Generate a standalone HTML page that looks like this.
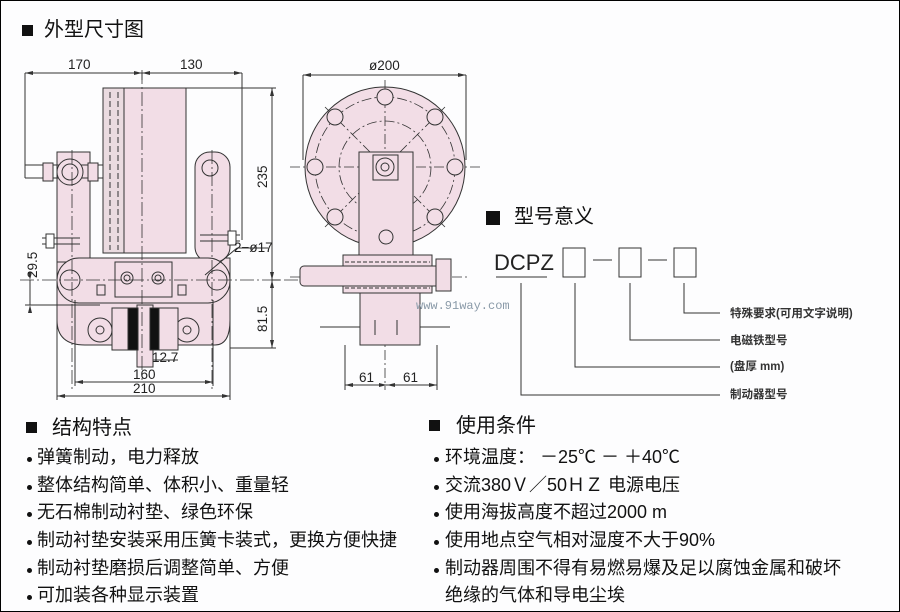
<!DOCTYPE html>
<html><head><meta charset="utf-8"><style>
html,body{margin:0;padding:0;background:#fff}
body{width:900px;height:612px;overflow:hidden;position:relative;font-family:"Liberation Sans","Noto Sans CJK SC",sans-serif}
.frame{position:absolute;left:0;top:0;width:898px;height:610px;border:1px solid #000;background:#fdfdfe}
.t{position:absolute;color:#111;white-space:nowrap;font-size:18px;line-height:1}
.h{font-size:20px}
.sq{position:absolute;width:11px;height:11px;background:#111}
.dot{position:absolute;width:5px;height:5px;border-radius:50%;background:#111}
</style></head><body><div class="frame"></div>
<svg width="900" height="612" style="position:absolute;left:0;top:0" font-family="Liberation Sans, sans-serif">
<g stroke="#333" stroke-width="1" fill="none">
<g fill="#f2dde6">
<path d="M57 258 L57 320 Q57 345 85 345 L215 345 Q230 345 230 320 L230 258 Z"/>
<rect x="57" y="152" width="33" height="110"/>
<rect x="195" y="152" width="35" height="110" rx="15"/>
<rect x="57" y="258" width="173" height="45" rx="22"/>
<rect x="103" y="88" width="83" height="165"/>
</g>
<rect x="103" y="88" width="21" height="165" fill="#eadbe0"/>
<line x1="110" y1="92" x2="110" y2="250" stroke-dasharray="6 3"/>
<line x1="118" y1="92" x2="118" y2="250" stroke-dasharray="6 3"/>
<rect x="115" y="262" width="57" height="35" fill="#f2dde6"/>
<circle cx="127" cy="278" r="6"/><circle cx="127" cy="278" r="3"/>
<circle cx="158" cy="278" r="6"/><circle cx="158" cy="278" r="3"/>
<circle cx="70" cy="280" r="10"/><circle cx="217" cy="280" r="10"/>
<circle cx="100" cy="330" r="12" fill="#f2dde6"/><circle cx="100" cy="330" r="4"/>
<circle cx="187" cy="330" r="12" fill="#f2dde6"/><circle cx="187" cy="330" r="4"/>
<rect x="112" y="308" width="66" height="42" fill="#f2dde6"/>
<rect x="137" y="305" width="16" height="62" fill="#f2dde6"/>
<rect x="128" y="308" width="10" height="42" fill="#111"/>
<rect x="150" y="308" width="9" height="42" fill="#111"/>
<path d="M25 165 H103 M25 178 H103 M25 165 V178" />
<circle cx="70" cy="172" r="13" fill="#f2dde6"/><circle cx="70" cy="172" r="8"/>
<rect x="43" y="163" width="10" height="18" fill="#f2dde6"/><rect x="88" y="163" width="10" height="18" fill="#f2dde6"/>
<circle cx="210" cy="168" r="8"/>
<path d="M42 238 H80 M42 244 H80 M200 235 H240 M200 241 H240"/>
<rect x="46" y="234" width="8" height="14" fill="#fff"/><rect x="228" y="231" width="8" height="14" fill="#fff"/>
<rect x="97" y="285" width="8" height="10"/><rect x="178" y="285" width="8" height="10"/>
<g stroke-dasharray="14 3 2 3" stroke-width="0.8">
<line x1="142" y1="70" x2="142" y2="380"/><line x1="20" y1="280" x2="298" y2="280"/>
<line x1="72" y1="150" x2="72" y2="390"/><line x1="212" y1="150" x2="212" y2="390"/>
</g>
<path d="M25 73 H242 M25 73 V176 M242 73 V240 M142 73 V80"/>
<path d="M186 88 H276 M272 88 V348 M230 348 H276 M272 280 H280"/>
<path d="M30 280 V305 M25 305 H100"/>
<path d="M75 382 H213 M57 396 H230 M75 300 V386 M213 300 V386 M57 300 V400 M230 300 V400"/>
<path d="M153 360 H178 M237 248 L205 275 M237 248 H268"/>
<circle cx="385" cy="167" r="80" fill="#f2dde6"/>
<g stroke-dasharray="10 3 2 3" stroke-width="0.8">
<circle cx="385" cy="167" r="70"/><circle cx="385" cy="167" r="46"/>
<line x1="290" y1="167" x2="480" y2="167"/><line x1="385" y1="80" x2="385" y2="390"/>
<line x1="325" y1="107" x2="445" y2="227"/><line x1="445" y1="107" x2="325" y2="227"/>
<line x1="290" y1="277" x2="470" y2="277"/>
</g>
<g fill="#f2dde6"><circle cx="385" cy="97" r="8"/><circle cx="315" cy="167" r="8"/><circle cx="455" cy="167" r="8"/>
<circle cx="335" cy="117" r="8"/><circle cx="435" cy="117" r="8"/><circle cx="335" cy="217" r="8"/><circle cx="435" cy="217" r="8"/></g>
<rect x="359" y="152" width="54" height="105" fill="#f2dde6"/>
<rect x="373" y="155" width="25" height="25" fill="#f2dde6"/><circle cx="385" cy="167" r="9"/><circle cx="385" cy="167" r="4"/>
<circle cx="386" cy="237" r="7"/>
<rect x="343" y="255" width="89" height="38" fill="#f2dde6"/>
<rect x="300" y="266" width="150" height="20" rx="4" fill="#f2dde6"/>
<rect x="436" y="259" width="15" height="32" fill="#f2dde6"/>
<path d="M345 262 H430 M345 288 H430" stroke-dasharray="4 2"/>
<rect x="360" y="293" width="60" height="52" fill="#f2dde6"/>
<path d="M375 320 V335 M397 320 V335 M320 327 H360 M420 327 H450"/>
<path d="M303 75 H466 M303 75 V160 M466 75 V160"/>
<path d="M345 385 H437 M345 345 V390 M437 345 V390"/>
<rect x="563" y="248" width="22" height="29"/><rect x="619" y="248" width="22" height="29"/><rect x="674" y="248" width="22" height="29"/>
<path d="M593 260 H612 M648 260 H667 M496 277 H547"/>
<path d="M521 283 V395 H720 M575 283 V367 H720 M630 283 V340 H720 M684 283 V313 H720"/>
</g>
<g fill="#333">
<path d="M25 73 l8 -2 v4z M142 73 l-8 -2 v4z M142 73 l8 -2 v4z M242 73 l-8 -2 v4z"/>
<path d="M272 88 l-2 8 h4z M272 348 l-2 -8 h4z M272 280 l-2 -8 h4z M272 280 l-2 8 h4z"/>
<path d="M75 382 l8 -2 v4z M213 382 l-8 -2 v4z M57 396 l8 -2 v4z M230 396 l-8 -2 v4z"/>
<path d="M303 75 l8 -2 v4z M466 75 l-8 -2 v4z M345 385 l8 -2 v4z M387 385 l-8 -2 v4z M387 385 l8 -2 v4z M437 385 l-8 -2 v4z"/>
<path d="M30 280 l-2 -8 h4z M30 305 l-2 8 h4z"/>
</g>
<g font-size="13.5" fill="#222">
<text x="68" y="69">170</text><text x="180" y="69">130</text>
<text x="267" y="188" transform="rotate(-90 267 188)">235</text>
<text x="267" y="332" transform="rotate(-90 267 332)">81.5</text>
<text x="37" y="278" transform="rotate(-90 37 278)">29.5</text>
<text x="234" y="252">2−ø17</text>
<text x="152" y="362">12.7</text><text x="133" y="379">160</text><text x="133" y="393">210</text>
<text x="369" y="70">ø200</text><text x="359" y="382">61</text><text x="403" y="382">61</text>
</g>
<text x="416" y="309" font-family="Liberation Mono, monospace" font-size="12" fill="#8a9aa8">www.91way.com</text>
<text x="494" y="270" font-size="22" fill="#222">DCPZ</text>
<g font-size="11.5" font-weight="bold" fill="#333" font-family="Liberation Sans, Noto Sans CJK SC, sans-serif">
<text x="730" y="317">特殊要求(可用文字说明)</text>
<text x="730" y="344">电磁铁型号</text>
<text x="730" y="370">(盘厚 mm)</text>
<text x="730" y="398">制动器型号</text>
</g>
</svg>
<div class="sq" style="left:22px;top:25px"></div><div class="t h" style="left:44px;top:20px">外型尺寸图</div>
<div class="sq" style="left:486px;top:211px;width:14px;height:14px"></div><div class="t h" style="left:514px;top:207px">型号意义</div>
<div class="sq" style="left:26px;top:422px"></div><div class="t h" style="left:52px;top:418px">结构特点</div>
<div class="sq" style="left:429px;top:420px"></div><div class="t h" style="left:456px;top:416px">使用条件</div>
<div class="dot" style="left:27px;top:457px"></div><div class="t" style="left:37px;top:448px">弹簧制动，电力释放</div>
<div class="dot" style="left:27px;top:485px"></div><div class="t" style="left:37px;top:476px">整体结构简单、体积小、重量轻</div>
<div class="dot" style="left:27px;top:512px"></div><div class="t" style="left:37px;top:503px">无石棉制动衬垫、绿色环保</div>
<div class="dot" style="left:27px;top:540px"></div><div class="t" style="left:37px;top:531px">制动衬垫安装采用压簧卡装式，更换方便快捷</div>
<div class="dot" style="left:27px;top:568px"></div><div class="t" style="left:37px;top:559px">制动衬垫磨损后调整简单、方便</div>
<div class="dot" style="left:27px;top:595px"></div><div class="t" style="left:37px;top:586px">可加装各种显示装置</div>
<div class="dot" style="left:434px;top:457px"></div><div class="t" style="left:445px;top:448px">环境温度： －25℃ － ＋40℃</div>
<div class="dot" style="left:434px;top:485px"></div><div class="t" style="left:445px;top:476px">交流380Ｖ／50ＨＺ 电源电压</div>
<div class="dot" style="left:434px;top:512px"></div><div class="t" style="left:445px;top:503px">使用海拔高度不超过2000 m</div>
<div class="dot" style="left:434px;top:540px"></div><div class="t" style="left:445px;top:531px">使用地点空气相对湿度不大于90%</div>
<div class="dot" style="left:434px;top:568px"></div><div class="t" style="left:445px;top:559px">制动器周围不得有易燃易爆及足以腐蚀金属和破坏</div>
<div class="t" style="left:445px;top:586px">绝缘的气体和导电尘埃</div>
</body></html>
